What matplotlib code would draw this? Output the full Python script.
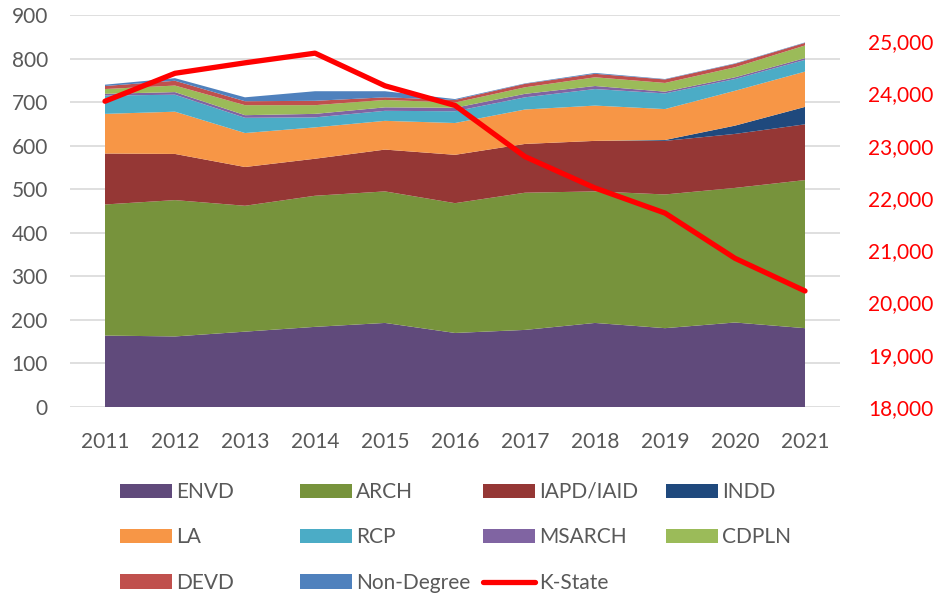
import matplotlib
matplotlib.use("Agg")
import matplotlib.pyplot as plt
from matplotlib.ticker import FuncFormatter

years = [2011, 2012, 2013, 2014, 2015, 2016, 2017, 2018, 2019, 2020, 2021]

# program enrollments (stacked)
envd = [164, 162, 173, 184, 193, 170, 177, 193, 181, 194, 181]
arch = [301, 313, 289, 301, 302, 298, 315, 302, 307, 309, 340]
iapd = [117, 106, 89, 85, 96, 111, 112, 116, 123, 124, 128]
indd = [0, 0, 0, 0, 0, 0, 0, 0, 2, 19, 40]
la = [91, 97, 78, 72, 66, 73, 79, 81, 71, 80, 81]
rcp = [42, 39, 35, 23, 23, 27, 28, 38, 36, 27, 27]
msarch = [4, 6, 6, 8, 8, 8, 8, 7, 4, 4, 4]
cdpln = [11, 15, 23, 20, 17, 12, 15, 20, 20, 23, 29]
devd = [7, 11, 9, 10, 6, 6, 8, 8, 8, 8, 6]
nondeg = [3, 6, 9, 22, 14, 2, 1, 2, 1, 1, 1]

# university total (right axis)
kstate = [23850, 24385, 24585, 24770, 24145, 23770, 22790, 22190, 21710, 20845, 20220]

names = ["ENVD", "ARCH", "IAPD/IAID", "INDD", "LA", "RCP", "MSARCH", "CDPLN", "DEVD", "Non-Degree"]
colors = ["#604A7B", "#77933C", "#953735", "#1F497D", "#F79646",
          "#4BACC6", "#8064A2", "#9BBB59", "#C0504D", "#4F81BD"]

plt.rcParams['font.family'] = ['Lato', 'DejaVu Sans']
fs = 15
gray = "#595959"

fig = plt.figure(figsize=(9.36, 5.94), dpi=100)
ax = fig.add_axes([70 / 936, 1 - 407 / 594, 770 / 936, 392 / 594])

polys = ax.stackplot(years, envd, arch, iapd, indd, la, rcp, msarch, cdpln, devd, nondeg,
                     colors=colors, labels=names, linewidth=0)
ax.set_xlim(2010.5, 2021.5)
ax.set_ylim(0, 900)
ax.set_yticks(range(0, 901, 100))
ax.set_xticks(years)
ax.set_axisbelow(True)
ax.grid(axis='y', color='#D9D9D9', linewidth=1.2)
for s in ax.spines.values():
    s.set_visible(False)
ax.tick_params(axis='y', length=0, pad=16, labelsize=fs, labelcolor=gray)
ax.tick_params(axis='x', length=0, pad=18, labelsize=fs, labelcolor=gray)

ax2 = ax.twinx()
line, = ax2.plot(years, kstate, color='#FF0000', linewidth=3.8, solid_capstyle='round',
                 solid_joinstyle='round', label='K-State')
ax2.set_ylim(18000, 25500)
ax2.set_yticks(range(18000, 25001, 1000))
ax2.yaxis.set_major_formatter(FuncFormatter(lambda v, p: f"{int(v):,}"))
for s in ax2.spines.values():
    s.set_visible(False)
ax2.tick_params(axis='y', length=0, pad=20, labelsize=fs, labelcolor='#FF0000')

# legend laid out in four fixed-width columns like the original
handles = list(polys) + [line]
labels = names + ['K-State']
cols = [[0, 4, 8], [1, 5, 9], [2, 6, 10], [3, 7]]
col_x = [120, 300, 483, 666]
for idx, x in zip(cols, col_x):
    fig.legend([handles[i] for i in idx], [labels[i] for i in idx],
               loc='upper left', bbox_to_anchor=(x / 936, 1 - 482 / 594),
               frameon=False, borderpad=0, borderaxespad=0, fontsize=fs,
               handlelength=2.5, handleheight=0.67, handletextpad=0.2,
               labelspacing=1.22, labelcolor=gray)

fig.savefig("out.png", dpi=100)
